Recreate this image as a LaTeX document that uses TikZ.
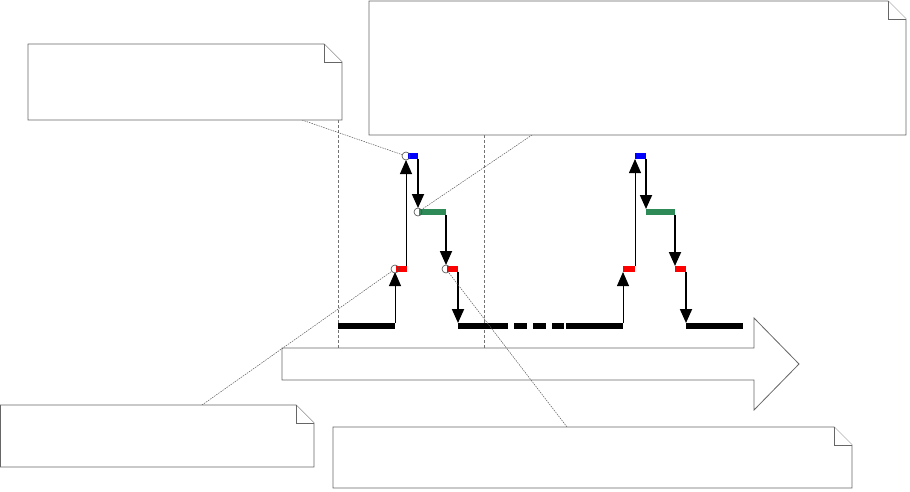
\documentclass[tikz,border=0pt]{standalone}
\usetikzlibrary{arrows.meta}
\definecolor{pgreen}{RGB}{46,139,87}
\newcommand\drawnote[4]{%
  \filldraw[notebox] (#1,#2) -- ({#3-18},#2) -- (#3,{#2+18}) -- (#3,#4) -- (#1,#4) -- cycle;
  \draw[notebox] ({#3-18},#2) -- ({#3-18},{#2+18}) -- (#3,{#2+18});}
\begin{document}
\begin{tikzpicture}[x=1pt,y=-1pt,
  notebox/.style={draw=black!60, fill=white, line width=0.8pt},
  leader/.style={draw=black!65, line width=0.5pt, dash pattern=on 1.5pt off 1pt},
  guide/.style={draw=black!55, line width=0.5pt, dash pattern=on 3pt off 2pt},
  tip/.style={-{Triangle[width=12pt,length=14pt]}},
  upar/.style={tip, line width=0.9pt},
  dnar/.style={tip, line width=1.8pt},
  dot/.style={circle, draw=black!70, line width=0.6pt, minimum size=8pt, inner sep=0pt},
  bar/.style={line width=6pt}]
\useasboundingbox (0,0) rectangle (910,491);
% big timeline arrow
\filldraw[draw=black!60, fill=white, line width=0.8pt]
  (282,348) -- (754,348) -- (754,318) -- (799,364) -- (754,410) -- (754,380) -- (282,380) -- cycle;
% vertical guides
\draw[guide] (338,120) -- (338,348);
\draw[guide] (484,135) -- (484,348);
% bars, pulse 1
\draw[bar] (338,326) -- (395,326);
\draw[bar,red] (396,269) -- (407,269);
\draw[bar,blue] (408,156) -- (418,156);
\draw[bar,pgreen] (419,212) -- (446,212);
\draw[bar,red] (447,269) -- (458,269);
\draw[bar] (458,326) -- (508,326);
\draw[bar] (514,326) -- (527,326);
\draw[bar] (533,326) -- (546,326);
\draw[bar] (552,326) -- (564,326);
\draw[bar] (566,326) -- (623,326);
% bars, pulse 2
\draw[bar,red] (623,269) -- (635,269);
\draw[bar,blue] (635,156) -- (646,156);
\draw[bar,pgreen] (646,212) -- (675,212);
\draw[bar,red] (675,269) -- (686,269);
\draw[bar] (686,326) -- (743,326);
% coordinates
\coordinate (a1) at (395,323); \coordinate (b1) at (395,272);
\coordinate (a2) at (406,266); \coordinate (b2) at (406,160);
\coordinate (a3) at (418,159); \coordinate (b3) at (418,208);
\coordinate (a4) at (446,215); \coordinate (b4) at (446,265);
\coordinate (a5) at (458,272); \coordinate (b5) at (458,323);
\coordinate (p1) at (623,323); \coordinate (q1) at (623,272);
\coordinate (p2) at (635,266); \coordinate (q2) at (635,159);
\coordinate (p3) at (646,159); \coordinate (q3) at (646,209);
\coordinate (p4) at (675,215); \coordinate (q4) at (675,266);
\coordinate (p5) at (686,272); \coordinate (q5) at (686,323);
\draw[upar] (a1) -- (b1);
\draw[upar] (a2) -- (b2);
\draw[dnar] (a3) -- (b3);
\draw[dnar] (a4) -- (b4);
\draw[dnar] (a5) -- (b5);
\draw[upar] (p1) -- (q1);
\draw[upar] (p2) -- (q2);
\draw[dnar] (p3) -- (q3);
\draw[dnar] (p4) -- (q4);
\draw[dnar] (p5) -- (q5);
% marker circles
\node[dot] (c1) at (406,156) {};
\node[dot] (c2) at (418,212) {};
\node[dot] (c3) at (395,269) {};
\node[dot] (c4) at (446,269) {};
% leader lines
\coordinate (n1) at (302,120);
\coordinate (n2) at (532,135);
\coordinate (n3) at (202,405);
\coordinate (n4) at (567,427);
\draw[leader] (n1) -- (c1);
\draw[leader] (n2) -- (c2);
\draw[leader] (n3) -- (c3);
\draw[leader] (n4) -- (c4);
% notes
\drawnote{28}{44}{342}{120}
\drawnote{369}{1}{906}{135}
\drawnote{0.5}{405}{314}{467}
\drawnote{333}{427}{852}{488}
\end{tikzpicture}
\end{document}
